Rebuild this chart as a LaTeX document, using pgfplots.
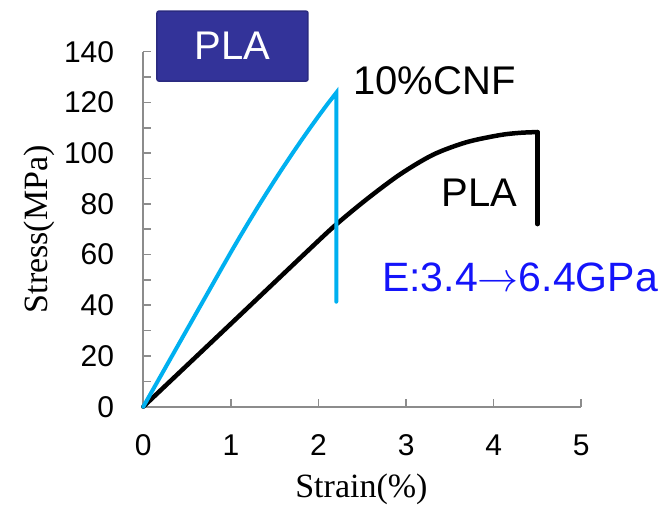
\RequirePackage{fix-cm}
\documentclass[border=0pt]{standalone}
\usepackage{fontspec}
\setmainfont{Liberation Sans}
\newfontfamily\seriffont{Liberation Serif}
\usepackage{pgfplots}
\pgfplotsset{compat=1.18}
\definecolor{cnf}{HTML}{00B0F0}
\definecolor{boxblue}{HTML}{333399}
\definecolor{boxedge}{HTML}{2A2A80}
\definecolor{txtblue}{HTML}{1414FA}
\definecolor{axgray}{HTML}{8C8C8C}
\begin{document}
\begin{tikzpicture}
\begin{axis}[
  scale only axis, width=438pt, height=355pt,
  xmin=0, xmax=5, ymin=0, ymax=140,
  axis lines*=left,
  axis line style={axgray, line width=2pt},
  xtick={0,1,2,3,4,5}, ytick={0,20,40,60,80,100,120,140},
  minor ytick={10,30,50,70,90,110,130},
  tick align=inside,
  major tick length=8pt, minor tick length=8pt,
  every tick/.style={axgray, line width=1.6pt},
  tick label style={font=\fontsize{30}{30}\selectfont, /pgf/number format/assume math mode=true, inner sep=0pt},
  every x tick label/.append style={yshift=-28pt},
  every y tick label/.append style={xshift=-29pt},
  xlabel={Strain(\%)}, ylabel={Stress(MPa)},
  label style={font=\seriffont\fontsize{34}{34}\selectfont, inner sep=0pt},
  xlabel style={at={(rel axis cs:0.498,-0.2563)}, anchor=base},
  ylabel style={at={(rel axis cs:-0.2187,0.5)}, anchor=base, rotate=0},
  clip=false,
]
% PLA curve
\addplot[black, line width=4.5pt, smooth, tension=0.5, line cap=round] coordinates {
  (0,0) (1.0,32.7) (1.9,62.2) (2.2,71.8) (2.55,81.8) (2.93,91.6) (3.31,99.4)
  (3.69,104.3) (4.07,107.1) (4.3,108.0) (4.5,108.3)
};
\addplot[black, line width=4.5pt, line cap=round] coordinates {(4.5,108.3) (4.5,72.0)};
% 10% CNF curve
\addplot[cnf, line width=4pt, line join=miter, line cap=round] coordinates {
  (0,0) (0.9,54.9) (1.0,60.94) (1.1,66.85) (1.2,72.65) (1.3,78.32) (1.4,83.86)
  (1.5,89.29) (1.6,94.59) (1.7,99.76) (1.8,104.82) (1.9,109.75) (2.0,114.56)
  (2.1,119.24) (2.203,123.8) (2.203,41.4)
};
\node[fill=boxblue, draw=boxedge, line width=1.5pt, rounded corners=2pt,
      minimum width=151pt, minimum height=70pt, inner sep=0pt, text=white,
      font=\fontsize{40}{40}\selectfont] at (axis cs:1.018,142.2) {PLA};
\node[anchor=base west, inner sep=0pt, font=\fontsize{40}{40}\selectfont] at (axis cs:2.394,123.0) {10\%CNF};
\node[anchor=base west, inner sep=0pt, font=\fontsize{40}{40}\selectfont] at (axis cs:3.406,78.9) {PLA};
\node[anchor=base west, inner sep=0pt, text=txtblue, font=\fontsize{41}{41}\selectfont] at (axis cs:2.725,45.4) {E:3.4$\rightarrow$6.4GPa};
\coordinate (bbsw) at (rel axis cs:-0.3272,-0.2797);
\coordinate (bbne) at (rel axis cs:1.1957,1.1456);
\end{axis}
\pgfresetboundingbox
\path[use as bounding box] (bbsw) rectangle (bbne);
\end{tikzpicture}
\end{document}
